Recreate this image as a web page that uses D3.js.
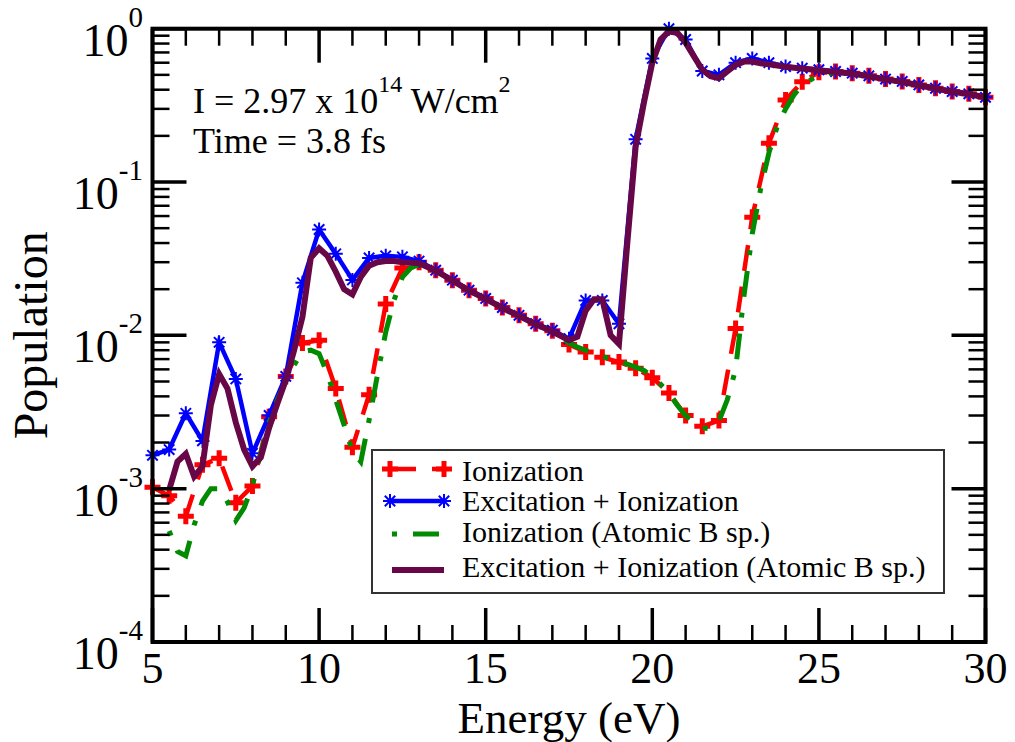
<!DOCTYPE html>
<html>
<head>
<meta charset="utf-8">
<script src="https://cdn.jsdelivr.net/npm/d3@7"></script>
<style>
  html, body { margin: 0; padding: 0; background: #fff; }
  svg text { white-space: pre; }
</style>
</head>
<body>
<svg id="chart" width="1015" height="742" font-family="'Liberation Serif', 'Times New Roman', Times, serif"></svg>
<script>
// Photon energy grid (eV) of the molecular-basis calculations
const energy = [5, 5.5, 6, 6.5, 7, 7.5, 8, 8.5, 9, 9.5, 10, 10.5, 11, 11.5, 12, 12.5, 13, 13.5, 14, 14.5,
  15, 15.5, 16, 16.5, 17, 17.5, 18, 18.5, 19, 19.5, 20, 20.5, 21, 21.5, 22, 22.5, 23, 23.5, 24, 24.5,
  25, 25.5, 26, 26.5, 27, 27.5, 28, 28.5, 29, 29.5, 30];

// Ionization only
const ionization = [1.02e-3, 9.0e-4, 6.6e-4, 1.43e-3, 1.58e-3, 8.1e-4, 1.04e-3, 2.95e-3, 5.4e-3, 8.9e-3,
  9.3e-3, 4.5e-3, 1.86e-3, 4.1e-3, 1.6e-2, 2.75e-2, 3.0e-2, 2.66e-2, 2.29e-2, 1.97e-2,
  1.74e-2, 1.52e-2, 1.35e-2, 1.19e-2, 1.07e-2, 8.7e-3, 7.8e-3, 7.2e-3, 6.7e-3, 6.1e-3,
  5.3e-3, 4.2e-3, 3.0e-3, 2.55e-3, 2.78e-3, 1.11e-2, 5.9e-2, 0.179, 0.343, 0.45,
  0.52, 0.526, 0.513, 0.493, 0.469, 0.453, 0.43, 0.409, 0.389, 0.376, 0.357];

// Excitation + ionization
const excitation = [1.65e-3, 1.8e-3, 3.1e-3, 2.05e-3, 9.0e-3, 5.2e-3, 1.7e-3, 3.0e-3, 5.4e-3, 2.2e-2,
  4.9e-2, 3.4e-2, 2.3e-2, 3.2e-2, 3.3e-2, 3.25e-2, 3.05e-2, 2.66e-2, 2.29e-2, 1.97e-2,
  1.74e-2, 1.52e-2, 1.35e-2, 1.19e-2, 1.08e-2, 9.5e-3, 1.69e-2, 1.69e-2, 1.19e-2, 0.19,
  0.64, 1.0, 0.85, 0.53, 0.50, 0.60, 0.64, 0.60, 0.567, 0.553,
  0.54, 0.526, 0.513, 0.493, 0.469, 0.453, 0.43, 0.409, 0.389, 0.376, 0.357];

// Energy grid (eV) of the atomic-basis calculations
const atomicEnergy = [5.5, 5.75, 6, 6.25, 6.5, 6.75, 7, 7.25, 7.5, 7.75, 8, 8.25, 8.5, 8.75,
  9, 9.25, 9.5, 9.75, 10, 10.25, 10.5, 10.75, 11, 11.25, 11.5, 11.75, 12, 12.25, 12.5, 12.75, 13,
  13.5, 14, 14.5, 15, 15.5, 16, 16.5, 17, 17.5,
  17.75, 18, 18.25, 18.5, 18.75, 19, 19.25, 19.5, 19.75, 20, 20.25, 20.5, 20.75, 21, 21.25, 21.5,
  21.75, 22, 22.25, 22.5, 22.75, 23, 23.25, 23.5, 23.75, 24, 24.25, 24.5,
  25, 25.5, 26, 26.5, 27, 27.5, 28, 28.5, 29, 29.5, 30];

// Ionization (atomic B basis)
const atomicIonization = [5.3e-4, 3.9e-4, 3.65e-4, 5.8e-4, 8.3e-4, 1.0e-3, 1.0e-3, 8.2e-4,
  6.2e-4, 7.5e-4, 1.05e-3, 1.7e-3, 2.7e-3, 3.8e-3, 5.0e-3, 6.4e-3, 7.8e-3, 8.0e-3,
  7.6e-3, 5.6e-3, 3.8e-3, 2.6e-3, 1.75e-3, 1.5e-3, 2.8e-3, 5.5e-3, 1.05e-2, 1.7e-2,
  2.4e-2, 2.75e-2, 2.9e-2,
  2.62e-2, 2.27e-2, 1.96e-2, 1.73e-2, 1.51e-2, 1.34e-2, 1.18e-2, 1.06e-2, 8.9e-3,
  8.4e-3, 8.0e-3, 7.6e-3, 7.3e-3, 7.0e-3, 6.7e-3, 6.5e-3, 6.2e-3, 5.9e-3, 5.4e-3,
  4.8e-3, 4.2e-3, 3.5e-3, 3.0e-3, 2.7e-3, 2.5e-3, 2.45e-3, 2.75e-3, 3.8e-3, 6.0e-3,
  1.8e-2, 4.6e-2, 9.0e-2, 0.155, 0.23, 0.30, 0.37, 0.43,
  0.50, 0.52, 0.51, 0.49, 0.467, 0.45, 0.428, 0.407, 0.388, 0.375, 0.356];

// Excitation + ionization (atomic B basis)
const atomicExcitation = [9.8e-4, 1.5e-3, 1.69e-3, 1.2e-3, 1.4e-3, 3.5e-3, 5.6e-3, 4.5e-3,
  2.7e-3, 1.8e-3, 1.4e-3, 1.6e-3, 2.5e-3, 3.6e-3, 5.1e-3, 8.0e-3, 1.32e-2, 3.2e-2,
  3.7e-2, 3.3e-2, 2.6e-2, 2.0e-2, 1.85e-2, 2.4e-2, 2.85e-2, 3.0e-2, 3.05e-2, 3.05e-2,
  3.0e-2, 2.97e-2, 2.95e-2,
  2.64e-2, 2.28e-2, 1.96e-2, 1.73e-2, 1.51e-2, 1.34e-2, 1.18e-2, 1.06e-2, 9.3e-3,
  9.8e-3, 1.45e-2, 1.72e-2, 1.72e-2, 1.0e-2, 8.8e-3, 4.0e-2, 0.17, 0.33, 0.60,
  0.85, 0.96, 0.94, 0.81, 0.66, 0.54, 0.49, 0.476, 0.526, 0.58,
  0.61, 0.61, 0.595, 0.585, 0.575, 0.565, 0.557, 0.55,
  0.535, 0.522, 0.51, 0.49, 0.467, 0.45, 0.428, 0.407, 0.388, 0.375, 0.356];

// Axis ticks
const xMajorTicks = [5, 10, 15, 20, 25, 30];
const yMajorExponents = [0, -1, -2, -3, -4];

const legendLabels = [
  "Ionization",
  "Excitation + Ionization",
  "Ionization (Atomic B sp.)",
  "Excitation + Ionization (Atomic B sp.)"
];

// ---- layout ----
const plot = { left: 152.5, right: 985.5, top: 28.7, bottom: 642 };
const svg = d3.select("#chart");

const x = d3.scaleLinear().domain([5, 30]).range([plot.left, plot.right]);
const y = d3.scaleLog().domain([1e-4, 1]).range([plot.bottom, plot.top]);

const series = [
  { xs: energy, ys: ionization, color: "#ff0000", width: 4.5, dash: "26,16", marker: "plus" },
  { xs: energy, ys: excitation, color: "#0000ff", width: 4.5, dash: null, marker: "star" },
  { xs: atomicEnergy, ys: atomicIonization, color: "#008b00", width: 5, dash: "5,16,26,16", marker: null },
  { xs: atomicEnergy, ys: atomicExcitation, color: "#670748", width: 6, dash: null, marker: null }
];

const line = d3.line().x(d => x(d[0])).y(d => y(d[1]));

function drawMarker(g, kind, cx, cy, color) {
  if (kind === "plus") {
    const r = 8;
    g.append("path")
      .attr("d", `M${cx - r},${cy}H${cx + r}M${cx},${cy - r}V${cy + r}`)
      .attr("stroke", color).attr("stroke-width", 5).attr("fill", "none");
  } else if (kind === "star") {
    const r = 7, d = 5.2;
    g.append("path")
      .attr("d", `M${cx - r},${cy}H${cx + r}M${cx},${cy - r}V${cy + r}` +
                 `M${cx - d},${cy - d}L${cx + d},${cy + d}M${cx - d},${cy + d}L${cx + d},${cy - d}`)
      .attr("stroke", color).attr("stroke-width", 2).attr("fill", "none");
  }
}

// ---- data series ----
const dataLayer = svg.append("g");
series.forEach(s => {
  const pts = s.xs.map((e, i) => [e, s.ys[i]]);
  dataLayer.append("path")
    .datum(pts)
    .attr("d", line)
    .attr("fill", "none")
    .attr("stroke", s.color)
    .attr("stroke-width", s.width)
    .attr("stroke-linejoin", "miter")
    .attr("stroke-linecap", "butt")
    .attr("stroke-dasharray", s.dash);
  if (s.marker) {
    const mg = dataLayer.append("g");
    pts.forEach(p => drawMarker(mg, s.marker, x(p[0]), y(p[1]), s.color));
  }
});

// ---- frame and ticks ----
const axes = svg.append("g").attr("stroke", "#000").attr("fill", "none");
const majorLen = 34, minorLen = 17;

// bottom / top
d3.range(5, 31, 1).forEach(v => {
  const isMajor = xMajorTicks.includes(v);
  const len = isMajor ? majorLen : minorLen;
  const w = isMajor ? 3.5 : 2.5;
  const px = x(v);
  axes.append("line").attr("x1", px).attr("x2", px)
    .attr("y1", plot.bottom).attr("y2", plot.bottom - len).attr("stroke-width", w);
  axes.append("line").attr("x1", px).attr("x2", px)
    .attr("y1", plot.top).attr("y2", plot.top + len).attr("stroke-width", w);
});

// left / right
yMajorExponents.forEach(ex => {
  const base = Math.pow(10, ex);
  const py = y(base);
  [[plot.left, 1], [plot.right, -1]].forEach(([sx, dir]) => {
    axes.append("line").attr("x1", sx).attr("x2", sx + dir * majorLen)
      .attr("y1", py).attr("y2", py).attr("stroke-width", 3.5);
  });
  if (ex < 0) {
    for (let m = 2; m <= 9; m++) {
      const pm = y(base * m);
      [[plot.left, 1], [plot.right, -1]].forEach(([sx, dir]) => {
        axes.append("line").attr("x1", sx).attr("x2", sx + dir * minorLen)
          .attr("y1", pm).attr("y2", pm).attr("stroke-width", 2.5);
      });
    }
  }
});

axes.append("rect")
  .attr("x", plot.left).attr("y", plot.top)
  .attr("width", plot.right - plot.left).attr("height", plot.bottom - plot.top)
  .attr("stroke-width", 4);

// ---- tick labels ----
const labels = svg.append("g").attr("fill", "#000");

xMajorTicks.forEach(v => {
  labels.append("text")
    .attr("x", x(v)).attr("y", plot.bottom + 41)
    .attr("text-anchor", "middle")
    .attr("font-size", 44)
    .text(v);
});

yMajorExponents.forEach(ex => {
  const t = labels.append("text")
    .attr("x", 143).attr("y", y(Math.pow(10, ex)) + 27)
    .attr("text-anchor", "end")
    .attr("font-size", 46);
  t.append("tspan").text("10");
  t.append("tspan").attr("dy", -29).attr("font-size", 29).text(ex);
});

// ---- axis titles ----
labels.append("text")
  .attr("x", (plot.left + plot.right) / 2).attr("y", 733)
  .attr("text-anchor", "middle").attr("font-size", 45)
  .text("Energy (eV)");

labels.append("text")
  .attr("transform", `translate(47,${(plot.top + plot.bottom) / 2}) rotate(-90)`)
  .attr("text-anchor", "middle").attr("font-size", 48)
  .text("Population");

// ---- annotation ----
const ann1 = labels.append("text").attr("x", 193).attr("y", 113).attr("font-size", 36);
ann1.append("tspan").text("I = 2.97 x 10");
ann1.append("tspan").attr("dy", -21).attr("font-size", 24).text("14");
ann1.append("tspan").attr("dy", 21).text(" W/cm");
ann1.append("tspan").attr("dy", -21).attr("font-size", 24).text("2");

labels.append("text").attr("x", 193).attr("y", 153).attr("font-size", 36)
  .text("Time = 3.8 fs");

// ---- legend ----
const legend = svg.append("g");
legend.append("rect")
  .attr("x", 372).attr("y", 450).attr("width", 572).attr("height", 143)
  .attr("fill", "#fff").attr("stroke", "#333").attr("stroke-width", 2);

const rowSymbolY = [469, 501, 534, 570];
const rowTextY = [481, 511, 542, 577];
series.forEach((s, i) => {
  const yy = rowSymbolY[i];
  const x1 = s.marker ? 390 : 392, x2 = 444;
  legend.append("line")
    .attr("x1", x1).attr("x2", x2).attr("y1", yy).attr("y2", yy)
    .attr("stroke", s.color).attr("stroke-width", s.width)
    .attr("stroke-dasharray", s.dash).attr("stroke-linecap", "butt");
  if (s.marker) {
    drawMarker(legend, s.marker, x1, yy, s.color);
    drawMarker(legend, s.marker, x2, yy, s.color);
  }
  legend.append("text")
    .attr("x", 462).attr("y", rowTextY[i])
    .attr("font-size", 30)
    .text(legendLabels[i]);
});
</script>
</body>
</html>
